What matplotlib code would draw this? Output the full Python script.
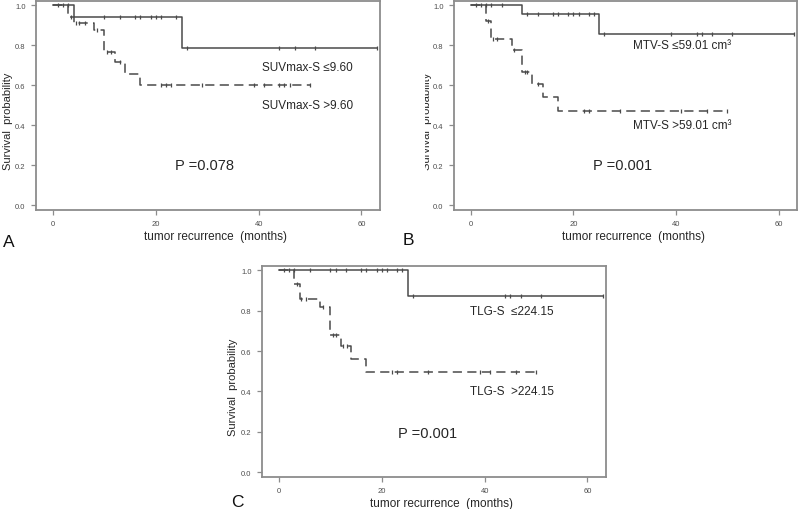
import matplotlib
matplotlib.use("Agg")
import matplotlib.pyplot as plt
from matplotlib.transforms import Bbox, TransformedBbox

plt.rcParams['font.family'] = ['Liberation Sans', 'DejaVu Sans']

# ---- data ----
# A: SUVmax-S
a_lo_t = [0, 4, 25, 63]
a_lo_s = [1.0, 0.944, 0.786, 0.786]
a_lo_cens_t = [10, 13, 16, 17, 19, 20, 21, 24, 26, 44, 47, 51, 63]
a_lo_cens_s = [0.944] * 8 + [0.786] * 5
a_hi_t = [0, 3, 4, 8, 10, 12, 14, 17, 50]
a_hi_s = [1.0, 0.941, 0.914, 0.877, 0.765, 0.718, 0.657, 0.602, 0.602]
a_hi_cens_t = [1, 2, 3, 3.5, 4.4, 5, 6.3, 8.5, 10.5, 11.2, 13, 21, 22, 23, 29, 39, 41, 44, 45, 46, 50]
a_hi_cens_s = [1.0] * 3 + [0.941] + [0.914] * 3 + [0.877] + [0.765] * 2 + [0.718] + [0.602] * 10

# B: MTV-S
b_lo_t = [0, 10, 25, 63]
b_lo_s = [1.0, 0.958, 0.855, 0.855]
b_lo_cens_t = [1, 2, 3, 4, 6, 11, 13, 16, 17, 19, 20, 21, 23, 24, 26, 39, 44, 45, 47, 51, 63]
b_lo_cens_s = [1.0] * 5 + [0.958] * 9 + [0.855] * 7
b_hi_t = [0, 3, 4, 8, 10, 12, 14, 17, 50]
b_hi_s = [1.0, 0.922, 0.83, 0.776, 0.668, 0.606, 0.54, 0.47, 0.47]
b_hi_cens_t = [3.3, 4.3, 5, 8.5, 10.5, 11, 13, 22, 23, 29, 41, 46, 50]
b_hi_cens_s = [0.922, 0.83, 0.83, 0.776, 0.668, 0.668, 0.606] + [0.47] * 6

# C: TLG-S
c_lo_t = [0, 25, 63]
c_lo_s = [1.0, 0.875, 0.875]
c_lo_cens_t = [1, 2, 3, 6, 10, 11, 13, 16, 17, 19, 20, 21, 23, 24, 26, 44, 45, 47, 51, 63]
c_lo_cens_s = [1.0] * 14 + [0.875] * 6
c_hi_t = [0, 3, 4, 8, 10, 12, 14, 17, 50]
c_hi_s = [1.0, 0.933, 0.857, 0.817, 0.682, 0.625, 0.562, 0.495, 0.495]
c_hi_cens_t = [3.5, 4.3, 5.2, 8.6, 10.5, 11, 12.5, 13.3, 22, 23, 29, 39, 41, 46, 50]
c_hi_cens_s = [0.933, 0.857, 0.857, 0.817, 0.682, 0.682, 0.625, 0.625] + [0.495] * 7

panels = [
    dict(letter="A", rect=[36, 2, 344, 209],
         lo=(a_lo_t, a_lo_s, a_lo_cens_t, a_lo_cens_s),
         hi=(a_hi_t, a_hi_s, a_hi_cens_t, a_hi_cens_s),
         lo_lab="SUVmax-S \u22649.60", lo_xy=(40.6, 0.69),
         hi_lab="SUVmax-S >9.60", hi_xy=(40.6, 0.50),
         p="P =0.078", p_xy=(23.7, 0.20), letter_xy=(3, 243), ylab_x=-0.066),
    dict(letter="B", rect=[454, 2, 343, 209],
         lo=(b_lo_t, b_lo_s, b_lo_cens_t, b_lo_cens_s),
         hi=(b_hi_t, b_hi_s, b_hi_cens_t, b_hi_cens_s),
         lo_lab="MTV-S \u226459.01 cm\u00b3", lo_xy=(31.7, 0.80),
         hi_lab="MTV-S >59.01 cm\u00b3", hi_xy=(31.7, 0.40),
         p="P =0.001", p_xy=(23.8, 0.20), letter_xy=(403, 241), ylab_x=-0.063),
    dict(letter="C", rect=[262, 267, 344, 211],
         lo=(c_lo_t, c_lo_s, c_lo_cens_t, c_lo_cens_s),
         hi=(c_hi_t, c_hi_s, c_hi_cens_t, c_hi_cens_s),
         lo_lab="TLG-S  \u2264224.15", lo_xy=(37.1, 0.80),
         hi_lab="TLG-S  >224.15", hi_xy=(37.1, 0.40),
         p="P =0.001", p_xy=(23.1, 0.195), letter_xy=(231, 503), ylab_x=-0.07),
]

W, H = 800, 510
line_c = "#4a4a4a"
spine_c = "#8c8c8c"
text_c = "#262626"

fig = plt.figure(figsize=(8, 5.1), dpi=100)

for pn in panels:
    x, y, w, h = pn["rect"]
    ax = fig.add_axes([x / W, 1 - (y + h) / H, w / W, h / H])

    t, s, ct, cs = pn["lo"]
    ax.step(t, s, where="post", color=line_c, lw=1.1)
    ax.plot(ct, cs, ls="none", marker="|", ms=3.5, mew=0.9, color=line_c)

    t, s, ct, cs = pn["hi"]
    ax.step(t, s, where="post", color=line_c, lw=1.1, dashes=(6, 3.5))
    ax.plot(ct, cs, ls="none", marker="|", ms=3.5, mew=0.9, color=line_c)

    ax.set_xlim(-3.3, 63.6)
    ax.set_ylim(-0.024, 1.022)
    ax.set_xticks([0, 20, 40, 60])
    ax.set_yticks([0.0, 0.2, 0.4, 0.6, 0.8, 1.0])
    ax.set_yticklabels(["0.0", "0.2", "0.4", "0.6", "0.8", "1.0"])
    ax.tick_params(length=3.5, width=0.9, color=spine_c, labelsize=5.5,
                   labelcolor="#4d4d4d", pad=4)
    for sp in ax.spines.values():
        sp.set_color(spine_c)
        sp.set_linewidth(1.3)

    ax.text(*pn["lo_xy"], pn["lo_lab"], fontsize=8.5, color=text_c, va="center")
    ax.text(*pn["hi_xy"], pn["hi_lab"], fontsize=8.5, color=text_c, va="center")
    ax.text(*pn["p_xy"], pn["p"], fontsize=10.5, color=text_c, va="center")

    ax.set_xlabel("tumor recurrence  (months)", fontsize=8.5, color=text_c)
    ax.xaxis.set_label_coords(0.523, -0.095)
    ax.set_ylabel("Survival  probability", fontsize=8, color=text_c)
    ax.yaxis.set_label_coords(pn["ylab_x"], 0.43)

    fig.text(pn["letter_xy"][0] / W, 1 - pn["letter_xy"][1] / H, pn["letter"],
             fontsize=12.5, color="#111111", va="center", ha="left")

# panel B's y label is cut off on its left side in the original
axB = fig.axes[1]
lab = axB.yaxis.label
lab.set_clip_box(TransformedBbox(Bbox.from_extents(425 / W, 0, 1, 1), fig.transFigure))
lab.set_clip_on(True)

fig.savefig("out.png", dpi=100, facecolor="white")
